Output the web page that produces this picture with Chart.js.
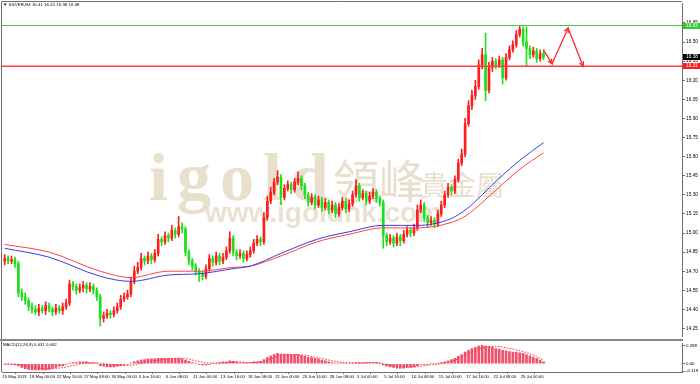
<!DOCTYPE html>
<html>
<head>
<meta charset="utf-8">
<script src="https://cdn.jsdelivr.net/npm/chart.js@4.4.1/dist/chart.umd.min.js"></script>
<style>
html, body { margin: 0; padding: 0; background: #fff; }
#wrap { position: relative; width: 700px; height: 384px; overflow: hidden; }
canvas { position: absolute; left: 0; }
#main { top: 0; }
#macd { top: 340px; }
</style>
</head>
<body>
<div id="wrap">
  <canvas id="main" width="700" height="340"></canvas>
  <canvas id="macd" width="700" height="44"></canvas>
</div>
<script>
// SILVER H4, one candle per two H4 bars, 15 May - 26 Jul 2019
const opens = [14.78,14.80,14.78,14.79,14.76,14.53,14.50,14.47,14.42,14.40,
  14.38,14.41,14.39,14.43,14.40,14.38,14.41,14.39,14.42,14.45,
  14.60,14.58,14.55,14.57,14.59,14.56,14.58,14.55,14.50,14.33,
  14.35,14.37,14.36,14.39,14.42,14.48,14.50,14.52,14.62,14.70,
  14.73,14.80,14.78,14.82,14.79,14.84,14.95,14.93,14.98,14.96,
  15.02,14.99,15.05,15.03,14.85,14.78,14.74,14.70,14.68,14.66,
  14.72,14.80,14.77,14.82,14.78,14.81,14.86,14.96,14.85,14.82,
  14.84,14.80,14.83,14.86,14.92,14.95,14.93,15.12,15.25,15.32,
  15.40,15.44,15.28,15.35,15.38,15.34,15.40,15.43,15.37,15.30,
  15.24,15.28,15.22,15.26,15.20,15.24,15.18,15.22,15.15,15.20,
  15.25,15.19,15.23,15.30,15.37,15.28,15.31,15.25,15.29,15.32,
  15.27,15.24,14.98,14.93,14.96,14.92,14.97,14.94,14.99,15.02,
  15.00,15.04,15.18,15.22,15.12,15.08,15.10,15.07,15.15,15.22,
  15.30,15.36,15.33,15.42,15.55,15.62,15.86,16.00,16.08,16.15,
  16.32,16.40,16.12,16.30,16.35,16.32,16.36,16.22,16.38,16.44,
  16.48,16.56,16.60,16.50,16.45,16.40,16.43,16.37,16.41];
const closes = [14.80,14.78,14.79,14.76,14.53,14.50,14.47,14.42,14.40,14.38,
  14.41,14.39,14.43,14.40,14.38,14.41,14.39,14.42,14.45,14.60,
  14.58,14.55,14.57,14.59,14.56,14.58,14.55,14.50,14.33,14.35,
  14.37,14.36,14.39,14.42,14.48,14.50,14.52,14.62,14.70,14.73,
  14.80,14.78,14.82,14.79,14.84,14.95,14.93,14.98,14.96,15.02,
  14.99,15.05,15.03,14.85,14.78,14.74,14.70,14.68,14.66,14.72,
  14.80,14.77,14.82,14.78,14.81,14.86,14.96,14.85,14.82,14.84,
  14.80,14.83,14.86,14.92,14.95,14.93,15.12,15.25,15.32,15.40,
  15.44,15.28,15.35,15.38,15.34,15.40,15.43,15.37,15.30,15.24,
  15.28,15.22,15.26,15.20,15.24,15.18,15.22,15.15,15.20,15.25,
  15.19,15.23,15.30,15.37,15.28,15.31,15.25,15.29,15.32,15.27,
  15.24,14.98,14.93,14.96,14.92,14.97,14.94,14.99,15.02,15.00,
  15.04,15.18,15.22,15.12,15.08,15.10,15.07,15.15,15.22,15.30,
  15.36,15.33,15.42,15.55,15.62,15.86,16.00,16.08,16.15,16.32,
  16.40,16.12,16.30,16.35,16.32,16.36,16.22,16.38,16.44,16.48,
  16.56,16.60,16.50,16.45,16.40,16.43,16.37,16.41,16.38];
const highs = [14.83,14.82,14.82,14.81,14.78,14.56,14.53,14.49,14.45,14.43,
  14.44,14.43,14.46,14.45,14.42,14.44,14.43,14.45,14.48,14.63,
  14.62,14.60,14.60,14.62,14.61,14.61,14.60,14.57,14.52,14.38,
  14.40,14.39,14.42,14.45,14.51,14.53,14.55,14.65,14.74,14.77,
  14.84,14.82,14.85,14.84,14.87,14.99,14.97,15.01,15.00,15.06,
  15.04,15.13,15.08,15.05,14.87,14.80,14.76,14.72,14.70,14.75,
  14.83,14.82,14.85,14.84,14.84,14.89,15.01,14.98,14.87,14.87,
  14.86,14.86,14.89,14.95,14.98,14.97,15.16,15.29,15.36,15.43,
  15.49,15.46,15.38,15.41,15.40,15.43,15.48,15.45,15.39,15.32,
  15.31,15.30,15.29,15.28,15.27,15.26,15.25,15.24,15.23,15.28,
  15.27,15.26,15.33,15.42,15.39,15.34,15.33,15.32,15.35,15.34,
  15.29,15.26,15.00,14.99,14.98,15.00,14.99,15.02,15.05,15.04,
  15.07,15.22,15.26,15.24,15.14,15.13,15.12,15.18,15.25,15.33,
  15.39,15.38,15.45,15.58,15.66,15.90,16.04,16.12,16.20,16.36,
  16.45,16.57,16.34,16.38,16.37,16.39,16.38,16.41,16.47,16.51,
  16.59,16.63,16.62,16.62,16.47,16.46,16.45,16.44,16.43];
const lows = [14.75,14.76,14.76,14.73,14.50,14.47,14.44,14.39,14.37,14.36,
  14.35,14.37,14.36,14.38,14.35,14.36,14.37,14.36,14.40,14.43,
  14.55,14.52,14.53,14.54,14.53,14.54,14.52,14.47,14.27,14.30,
  14.33,14.33,14.34,14.37,14.40,14.46,14.48,14.50,14.60,14.68,
  14.71,14.75,14.76,14.76,14.77,14.82,14.90,14.91,14.93,14.94,
  14.96,14.97,15.00,14.82,14.75,14.71,14.67,14.62,14.63,14.64,
  14.70,14.74,14.75,14.75,14.76,14.79,14.84,14.82,14.79,14.80,
  14.77,14.78,14.81,14.84,14.90,14.90,14.91,15.10,15.23,15.30,
  15.38,15.22,15.26,15.33,15.31,15.32,15.38,15.34,15.27,15.21,
  15.22,15.19,15.20,15.17,15.18,15.15,15.16,15.12,15.13,15.18,
  15.16,15.17,15.21,15.28,15.25,15.26,15.22,15.23,15.27,15.24,
  15.21,14.88,14.90,14.91,14.89,14.90,14.90,14.92,14.97,14.97,
  14.98,15.02,15.16,15.09,15.05,15.06,15.04,15.05,15.13,15.20,
  15.28,15.30,15.31,15.40,15.53,15.60,15.84,15.97,16.05,16.13,
  16.29,16.04,16.10,16.27,16.29,16.30,16.17,16.20,16.36,16.42,
  16.46,16.54,16.47,16.31,16.37,16.38,16.34,16.35,16.36];

// moving averages, read at a few candle positions
const maIdx  = [0,13,28,37,48,57,67,72,81,91.5,101,111,121,130.6,135.5,140,145,151,158];
const maBlue = [14.88,14.81,14.66,14.62,14.67,14.68,14.72,14.74,14.84,14.95,15.01,15.06,15.06,15.11,15.19,15.30,15.43,15.57,15.71];
const maRed  = [14.91,14.85,14.70,14.65,14.70,14.70,14.73,14.74,14.82,14.93,14.99,15.04,15.04,15.08,15.14,15.24,15.36,15.50,15.63];

// MACD(12,26,9)
const macdHist = [-0.01,-0.01,-0.01,-0.02,
  -0.03,-0.06,-0.08,-0.09,-0.10,-0.10,-0.10,-0.10,-0.10,-0.09,-0.08,-0.06,
  -0.04,-0.03,-0.01,0.01,0.02,0.02,0.03,0.03,0.03,0.02,0.02,0.01,
  -0.03,-0.04,-0.05,-0.05,-0.05,-0.04,-0.03,-0.02,-0.01,
  0.01,0.03,0.05,0.06,0.07,0.08,0.08,0.08,0.09,0.09,0.09,0.09,0.09,0.09,0.09,0.08,0.06,
  0.04,0.02,0.00,-0.01,-0.02,-0.02,-0.01,0.00,0.01,
  0.02,0.03,0.03,0.05,0.04,0.03,0.02,0.02,0.02,
  0.02,0.03,0.03,0.04,0.07,
  0.10,0.13,0.15,0.17,0.16,0.16,0.16,0.15,0.15,0.15,0.14,
  0.12,0.11,0.10,0.09,0.08,0.06,
  0.05,0.03,0.02,0.01,0.01,0.01,0.00,0.00,
  0.01,0.02,0.02,0.02,0.02,0.02,0.02,0.02,0.01,
  -0.02,-0.04,-0.05,-0.06,-0.07,-0.07,-0.07,-0.06,-0.06,-0.05,-0.03,
  -0.01,-0.01,-0.01,0.00,0.00,0.01,0.02,0.03,0.05,
  0.07,0.09,0.12,0.15,0.19,0.22,0.25,0.27,0.29,0.30,
  0.29,0.28,0.27,0.25,0.24,0.22,0.21,0.20,0.19,0.19,0.18,0.17,0.15,0.13,0.11,0.09,0.06,0.03];
const signalIdx = [0,4,8,12,16,20,24,28,32,36,40,44,48,52,56,60,64,68,72,76,80,
  84,88,92,96,100,104,108,112,116,120,124,128,132,136,140,144,148,152,156,158];
const signalVals = [0.00,-0.01,-0.05,-0.08,-0.07,-0.03,0.01,0.01,-0.02,-0.03,0.01,
  0.05,0.08,0.09,0.05,0.01,0.01,0.03,0.02,0.04,0.12,
  0.15,0.14,0.10,0.05,0.02,0.01,0.02,-0.01,-0.05,-0.05,
  -0.02,0.00,0.06,0.17,0.26,0.285,0.25,0.20,0.12,0.062];

// levels and projection drawn on the chart
const resistance = 16.63;
const support = 16.31;
const arrowIdx = [157.9, 160.5, 165.2, 169.6];
const arrowPrice = [16.44, 16.33, 16.61, 16.31];

const priceTicks = [14.25,14.40,14.55,14.70,14.85,15.00,15.15,15.30,15.45,15.60,15.75,15.90,16.05,16.20,16.35,16.50,16.65];
const macdTicks = [0.298, 0, -0.119];
const macdTickLabels = ['0.298', '0.00', '-0.119'];
const timeLabels = ['15 May 2019','18 May 00:00','22 May 16:00','27 May 08:00','30 May 00:00',
  '3 Jun 16:00','6 Jun 08:00','11 Jun 00:00','13 Jun 16:00','18 Jun 08:00','21 Jun 00:00',
  '25 Jun 16:00','28 Jun 08:00','3 Jul 00:00','5 Jul 16:00','10 Jul 08:00','15 Jul 00:00',
  '17 Jul 16:00','22 Jul 08:00','25 Jul 00:00'];

const X_MIN = -0.8, X_MAX = 198.6;
const UP = '#ff1c1c', DOWN = '#1de01d';
const AXIS = '#6e6e6e';
const FONT = 'Liberation Sans';

Chart.defaults.font.family = FONT;
Chart.defaults.color = '#000';

const candleColor = c => closes[c.dataIndex] >= opens[c.dataIndex] ? UP : DOWN;

const mainDecor = {
  id: 'mainDecor',
  beforeDatasetsDraw(chart) {
    const ctx = chart.ctx;
    ctx.save();
    ctx.textBaseline = 'alphabetic';
    ctx.fillStyle = '#e8dfcc';
    ctx.font = 'bold 68px "Liberation Serif"';
    ctx.letterSpacing = '9px';
    ctx.fillText('igold', 149, 200);
    ctx.letterSpacing = '0px';
    ctx.font = '46px "Noto Sans CJK TC"';
    ctx.fillText('領峰', 333, 198);
    ctx.font = '28px "Noto Sans CJK TC"';
    ctx.fillText('貴金屬', 420, 196);
    ctx.fillStyle = 'rgba(226,216,196,0.75)';
    ctx.font = 'bold 28px "Liberation Sans"';
    ctx.fillText('www.igoldhk.com', 205, 222);
    ctx.restore();
  },
  afterDatasetsDraw(chart) {
    const ctx = chart.ctx;
    const pts = chart.getDatasetMeta(chart.data.datasets.length - 1).data;
    ctx.save();
    ctx.strokeStyle = '#ff2626';
    ctx.lineWidth = 1.3;
    for (let k = 1; k < pts.length; k++) {
      const a = pts[k - 1], b = pts[k];
      const ang = Math.atan2(b.y - a.y, b.x - a.x);
      ctx.beginPath();
      ctx.moveTo(b.x - 5 * Math.cos(ang - 0.45), b.y - 5 * Math.sin(ang - 0.45));
      ctx.lineTo(b.x, b.y);
      ctx.lineTo(b.x - 5 * Math.cos(ang + 0.45), b.y - 5 * Math.sin(ang + 0.45));
      ctx.stroke();
    }
    ctx.restore();
  },
  afterDraw(chart) {
    const ctx = chart.ctx;
    const ys = chart.scales.y;
    const area = chart.chartArea;
    ctx.save();
    // frame
    ctx.strokeStyle = AXIS;
    ctx.lineWidth = 1;
    ctx.beginPath();
    ctx.moveTo(1.5, 339); ctx.lineTo(1.5, 1.5); ctx.lineTo(area.right, 1.5);
    ctx.stroke();
    ctx.fillStyle = '#888';
    ctx.fillRect(0, 339, area.right + 1, 1);
    // title
    ctx.fillStyle = '#000';
    ctx.font = '4.4px ' + FONT;
    ctx.textBaseline = 'middle';
    ctx.fillText('\u25BC SILVER,H4 16.41 16.41 16.38 16.38', 3, 5);
    // price boxes
    const boxes = [
      { v: resistance, bg: '#33cc33', fg: '#fff' },
      { v: closes[closes.length - 1], bg: '#000', fg: '#fff' },
      { v: support, bg: '#ff1c1c', fg: '#fff' }
    ];
    ctx.font = '4.8px ' + FONT;
    boxes.forEach(b => {
      const y = Math.round(ys.getPixelForValue(b.v));
      ctx.fillStyle = b.bg;
      ctx.fillRect(area.right + 1, y - 3, 17, 6);
      ctx.fillStyle = b.fg;
      ctx.fillText(b.v.toFixed(2), area.right + 4, y);
    });
    ctx.restore();
  }
};

new Chart(document.getElementById('main'), {
  type: 'bar',
  data: {
    datasets: [
      { label: 'wick', data: lows.map((l, i) => ({ x: i, y: [l, highs[i]] })),
        backgroundColor: candleColor, barThickness: 1, grouped: false, order: 5 },
      { label: 'body', data: opens.map((o, i) => ({ x: i, y: [o, closes[i]] })),
        backgroundColor: candleColor, barThickness: 2, minBarLength: 1, grouped: false, order: 4 },
      { type: 'line', label: 'ma1', data: maIdx.map((x, k) => ({ x: x, y: maBlue[k] })),
        borderColor: '#3a3ae6', borderWidth: 1, pointRadius: 0, cubicInterpolationMode: 'monotone', order: 3 },
      { type: 'line', label: 'ma2', data: maIdx.map((x, k) => ({ x: x, y: maRed[k] })),
        borderColor: '#ff4040', borderWidth: 1, pointRadius: 0, cubicInterpolationMode: 'monotone', order: 3 },
      { type: 'line', label: 'res', data: [{ x: X_MIN, y: resistance }, { x: X_MAX, y: resistance }],
        borderColor: '#3fcc3f', borderWidth: 1, pointRadius: 0, order: 2 },
      { type: 'line', label: 'sup', data: [{ x: X_MIN, y: support }, { x: X_MAX, y: support }],
        borderColor: '#ff3a3a', borderWidth: 1.6, pointRadius: 0, order: 2 },
      { type: 'line', label: 'arrow', data: arrowIdx.map((x, k) => ({ x: x, y: arrowPrice[k] })),
        borderColor: '#ff2626', borderWidth: 1.3, pointRadius: 0, tension: 0, order: 1 }
    ]
  },
  options: {
    responsive: false,
    animation: false,
    devicePixelRatio: 1,
    layout: { padding: { left: 2, top: 2, bottom: 2, right: 0 } },
    plugins: { legend: { display: false }, tooltip: { enabled: false } },
    scales: {
      x: { type: 'linear', min: X_MIN, max: X_MAX, offset: false, display: false },
      y: {
        position: 'right', min: 14.19, max: 16.80,
        afterBuildTicks: s => { s.ticks = priceTicks.map(v => ({ value: v })); },
        afterFit: s => { s.width = 18; },
        ticks: { font: { size: 4.8 }, padding: 1, callback: v => v.toFixed(2) },
        grid: { drawOnChartArea: false, tickLength: 3, color: AXIS },
        border: { color: AXIS }
      }
    }
  },
  plugins: [mainDecor]
});

const macdDecor = {
  id: 'macdDecor',
  afterDraw(chart) {
    const ctx = chart.ctx;
    const area = chart.chartArea;
    ctx.save();
    ctx.fillStyle = '#888';
    ctx.fillRect(0, 0, area.right + 1, 1);
    ctx.strokeStyle = AXIS;
    ctx.beginPath();
    ctx.moveTo(1.5, 1); ctx.lineTo(1.5, area.bottom);
    ctx.stroke();
    ctx.fillStyle = '#000';
    ctx.font = '4.3px ' + FONT;
    ctx.textBaseline = 'middle';
    ctx.fillText('MACD(12,26,9) 0.031 0.062', 3, 5);
    ctx.restore();
  }
};

new Chart(document.getElementById('macd'), {
  type: 'bar',
  data: {
    datasets: [
      { type: 'line', label: 'signal', data: signalIdx.map((x, k) => ({ x: x, y: signalVals[k] })),
        borderColor: '#ff3030', borderWidth: 1, borderDash: [1.5, 1.5], pointRadius: 0,
        cubicInterpolationMode: 'monotone', order: 1 },
      { label: 'macd', data: macdHist.map((v, i) => ({ x: i, y: v })),
        backgroundColor: '#f0506e', barThickness: 2, grouped: false, order: 2 }
    ]
  },
  options: {
    responsive: false,
    animation: false,
    devicePixelRatio: 1,
    layout: { padding: { left: 2, top: 2, bottom: 0, right: 0 } },
    plugins: { legend: { display: false }, tooltip: { enabled: false } },
    scales: {
      x: {
        type: 'linear', min: X_MIN, max: X_MAX, offset: false, position: 'bottom',
        afterBuildTicks: s => { s.ticks = timeLabels.map((_, k) => ({ value: k * 8 - 0.7 })); },
        afterFit: s => { s.height = 12; },
        ticks: { align: 'start', maxRotation: 0, autoSkip: false, padding: 0.5, font: { size: 4.2 },
          callback: (v, idx) => timeLabels[idx] },
        grid: { drawOnChartArea: false, tickLength: 2, color: AXIS },
        border: { color: AXIS }
      },
      y: {
        position: 'right', min: -0.134, max: 0.329,
        afterBuildTicks: s => { s.ticks = macdTicks.map(v => ({ value: v })); },
        afterFit: s => { s.width = 18; },
        ticks: { font: { size: 4.4 }, padding: 1, callback: (v, idx) => macdTickLabels[idx] },
        grid: { drawOnChartArea: false, tickLength: 3, color: AXIS },
        border: { color: AXIS }
      }
    }
  },
  plugins: [macdDecor]
});
</script>
</body>
</html>
